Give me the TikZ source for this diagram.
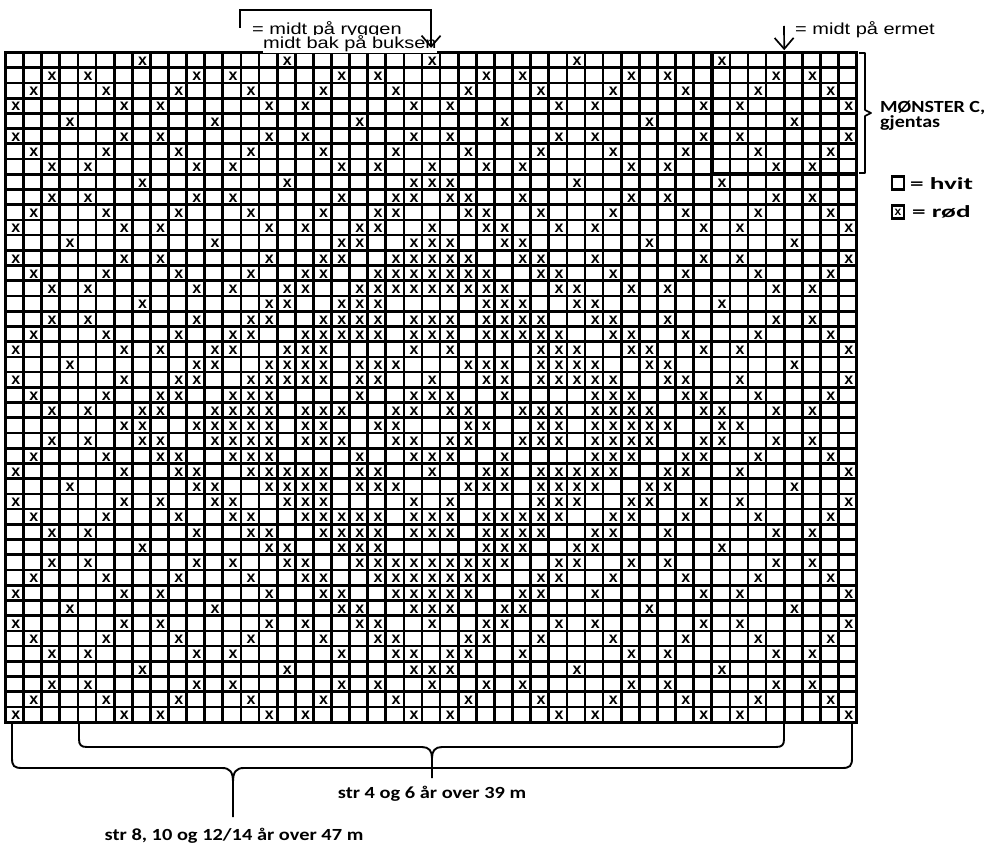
\documentclass[tikz,border=0pt]{standalone}
\usepackage{fontspec}
\setmainfont{Liberation Sans}
\newfontfamily\labelfont{Carlito}
\usepackage{graphicx}
\usetikzlibrary{arrows.meta}

\newcommand{\widen}[2]{\scalebox{#1}[1]{#2}}

\tikzset{
  gridline/.style={line width=2.7pt, line cap=rect},
  stitchmark/.style={font=\fontsize{16}{16}\selectfont\bfseries, inner sep=0pt,
    anchor=base, xshift=1.2pt, yshift=2.4pt},
  notetext/.style={font=\fontsize{16}{16}\selectfont, inner sep=0pt, anchor=base west},
  sizetext/.style={font=\labelfont\bfseries\fontsize{17}{17}\selectfont, inner sep=0pt, anchor=base},
  keytext/.style={sizetext, anchor=base west},
  keybox/.style={draw, line width=2.8pt, minimum width=12pt, minimum height=13pt, inner sep=0pt,
    font=\fontsize{12}{12}\selectfont\bfseries},
  bracketline/.style={line width=1.9pt, line join=round},
  pointer/.style={line width=1.7pt, -{Straight Barb[length=11pt,width=19pt]}},
}

\begin{document}
\begin{tikzpicture}[x=1pt, y=-1pt]
  \useasboundingbox (0,0) rectangle (987,850);

  % chart: 47 stitches x 44 rows, one unit per cell
  \begin{scope}[shift={(5.5,52.5)}, x=18.11pt, y=-15.22pt]
    \foreach \i in {0,...,47} \draw[gridline] (\i,0) -- (\i,44);
    \foreach \j in {0,...,44} \draw[gridline] (0,\j) -- (47,\j);

    % left half of rows 1-25, mirrored about stitch 24 and row 25
    \foreach \rowno/\cols in {
        1/{8,16,24}, 2/{3,5,11,13,19,21}, 3/{2,6,10,14,18,22},
        4/{1,7,9,15,17,23}, 5/{4,12,20}, 6/{1,7,9,15,17,23},
        7/{2,6,10,14,18,22}, 8/{3,5,11,13,19,21,24}, 9/{8,16,23,24},
        10/{3,5,11,13,19,22,23}, 11/{2,6,10,14,18,21,22},
        12/{1,7,9,15,17,20,21,24}, 13/{4,12,19,20,23,24},
        14/{1,7,9,15,18,19,22,23,24}, 15/{2,6,10,14,17,18,21,22,23,24},
        16/{3,5,11,13,16,17,20,21,22,23,24}, 17/{8,15,16,19,20,21},
        18/{3,5,11,14,15,18,19,20,21,23,24},
        19/{2,6,10,13,14,17,18,19,20,21,23,24},
        20/{1,7,9,12,13,16,17,18,23}, 21/{4,11,12,15,16,17,18,20,21,22},
        22/{1,7,10,11,14,15,16,17,18,20,21,24},
        23/{2,6,9,10,13,14,15,20,23,24},
        24/{3,5,8,9,12,13,14,15,17,18,19,22,23},
        25/{7,8,11,12,13,14,15,17,18,21,22}}{
      \pgfmathtruncatemacro{\rowmir}{50-\rowno}
      \foreach \colno in \cols {
        \pgfmathtruncatemacro{\colmir}{48-\colno}
        \node[stitchmark] (x\rowno-\colno) at (\colno-0.5,\rowno) {x};
        \ifnum\colno<24 \node[stitchmark] (x\rowno-\colmir) at (\colmir-0.5,\rowno) {x};\fi
        \ifnum\rowmir<45 \ifnum\rowmir>\rowno
          \node[stitchmark] (x\rowmir-\colno) at (\colno-0.5,\rowmir) {x};
          \ifnum\colno<24 \node[stitchmark] (x\rowmir-\colmir) at (\colmir-0.5,\rowmir) {x};\fi
        \fi\fi
      }
    }

    % pattern C repeat
    \draw[line width=3.6pt] (39,0) rectangle (47,8);
    \coordinate (backtip) at (23.5,-0.3);
    \coordinate (sleevetip) at (43,-0.15);
  \end{scope}

  % centre marks
  \node[notetext] (ryggen) at (252,35) {\widen{1.25}{= midt på ryggen}};
  \node[notetext, fill=white, inner ysep=1pt] (buksen) at (263,49) {\widen{1.25}{midt bak på buksen}};
  \coordinate (noteend) at (240,28);
  \coordinate (notecorner) at (240,10);
  \draw[pointer] (noteend) -- (notecorner) -| (backtip);

  \node[notetext] (ermet) at (795,35) {\widen{1.25}{= midt på ermet}};
  \coordinate (sleevetop) at (784,26);
  \draw[pointer] (sleevetop) -- (sleevetip);

  % repeat label and key
  \draw[line width=1.6pt, line join=round] (859,53) -- (865,53) -- (865,110) -- (871,113)
    -- (865,116) -- (865,173) -- (859,173);
  \node[keytext] (monster) at (880,113) {\widen{1.18}{MØNSTER C,}};
  \node[keytext] (gjentas) at (880,128) {\widen{1.18}{gjentas}};

  \node[keybox] (hvitbox) at (898,183) {};
  \node[keytext] (hvit) at (910,190) {\widen{1.6}{= hvit}};
  \node[keybox] (rodbox) at (898,212) {x};
  \node[keytext] (rod) at (912,218) {\widen{1.6}{= rød}};

  % size brackets
  \draw[bracketline] (79,722) -- (79,739) .. controls (79,745) and (81,747) .. (87,747)
    -- (422,747) .. controls (429,747) and (432,751) .. (432,758) -- (432,778)
    (432,758) .. controls (432,751) and (435,747) .. (442,747)
    -- (776,747) .. controls (782,747) and (784,745) .. (784,739) -- (784,722);
  \node[sizetext] (str39) at (432,798) {\widen{1.2}{str 4 og 6 år over 39 m}};

  \draw[bracketline] (12,722) -- (12,758) .. controls (12,766) and (14,768) .. (22,768)
    -- (222,768) .. controls (230,768) and (233,772) .. (233,782) -- (233,817)
    (233,782) .. controls (233,772) and (236,768) .. (244,768)
    -- (842,768) .. controls (850,768) and (852,766) .. (852,758) -- (852,722);
  \node[sizetext] (str47) at (234,840) {\widen{1.2}{str 8, 10 og 12/14 år over 47 m}};
\end{tikzpicture}
\end{document}
